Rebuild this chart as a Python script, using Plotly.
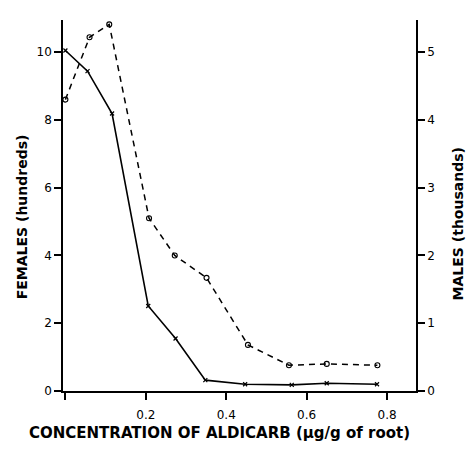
import plotly.graph_objects as go

# Concentration of aldicarb (ug/g of root)
conc_f = [0.0, 0.055, 0.116, 0.206, 0.274, 0.348, 0.447, 0.563, 0.650, 0.775]
females_hundreds = [10.05, 9.44, 8.19, 2.51, 1.55, 0.32, 0.20, 0.18, 0.23, 0.20]

conc_m = [0.0, 0.060, 0.109, 0.208, 0.272, 0.351, 0.454, 0.556, 0.650, 0.776]
males_thousands = [4.30, 5.22, 5.41, 2.55, 2.00, 1.67, 0.68, 0.38, 0.40, 0.38]

x_tickvals = [0, 0.2, 0.4, 0.6, 0.8]
x_ticktext = ["", "0.2", "0.4", "0.6", "0.8"]
left_ticks = [0, 2, 4, 6, 8, 10]
right_ticks = [0, 1, 2, 3, 4, 5]

font = "DejaVu Sans"

fig = go.Figure()
fig.add_trace(go.Scatter(
    x=conc_f, y=females_hundreds, mode="lines+markers",
    line=dict(color="black", width=1.6),
    marker=dict(symbol="x-thin", size=4, color="black",
                line=dict(color="black", width=1.2)),
    yaxis="y", showlegend=False))
fig.add_trace(go.Scatter(
    x=conc_m, y=males_thousands, mode="lines+markers",
    line=dict(color="black", width=1.5, dash="6px,5px"),
    marker=dict(symbol="circle-open", size=5, color="black",
                line=dict(color="black", width=1.1)),
    yaxis="y2", showlegend=False))

axis_common = dict(showline=True, linecolor="black", linewidth=1.6,
                   ticks="outside", ticklen=7, tickwidth=1.5, tickcolor="black",
                   showgrid=False, zeroline=False, automargin=False,
                   tickfont=dict(family=font, size=12, color="black"))

fig.update_layout(
    width=476, height=455,
    margin=dict(l=63, r=60, t=20, b=64, autoexpand=False),
    paper_bgcolor="white", plot_bgcolor="white",
    xaxis=dict(range=[-0.006, 0.872], tickvals=x_tickvals, ticktext=x_ticktext,
               ticklabelstandoff=5, **axis_common),
    yaxis=dict(range=[0, 10.95], tickvals=left_ticks, **axis_common),
    yaxis2=dict(range=[0, 5.475], tickvals=right_ticks, overlaying="y", side="right",
                **axis_common),
    annotations=[
        dict(text="CONCENTRATION OF ALDICARB (\u00b5g/g of root)",
             xref="paper", yref="paper", x=0.443, y=-0.113,
             xanchor="center", yanchor="middle", showarrow=False,
             font=dict(family=font, size=15, color="black", weight="bold")),
        dict(text="FEMALES (hundreds)", textangle=-90,
             xref="paper", yref="paper", x=-0.117, y=0.47,
             xanchor="center", yanchor="middle", showarrow=False,
             font=dict(family=font, size=14, color="black", weight="bold")),
        dict(text="MALES (thousands)", textangle=-90,
             xref="paper", yref="paper", x=1.12, y=0.45,
             xanchor="center", yanchor="middle", showarrow=False,
             font=dict(family=font, size=14, color="black", weight="bold")),
    ],
)

fig.write_html("out.html", config={"displayModeBar": False},
               post_script="document.body.style.margin='0';document.body.style.overflow='hidden';")
